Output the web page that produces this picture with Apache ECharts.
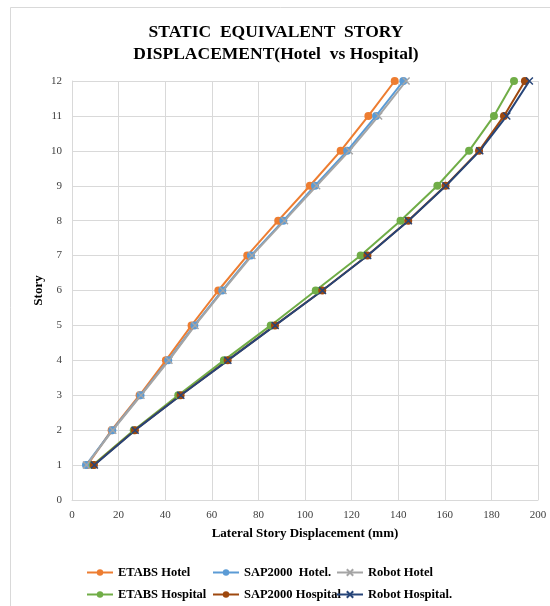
<!DOCTYPE html>
<html>
<head>
<meta charset="utf-8">
<style>
  html, body { margin: 0; padding: 0; background: #fff; }
  #chart { width: 550px; height: 606px; }
</style>
<script src="https://cdn.jsdelivr.net/npm/echarts@6/dist/echarts.min.js"></script>
</head>
<body>
<div id="chart"></div>
<script>
// story levels
var stories = [1, 2, 3, 4, 5, 6, 7, 8, 9, 10, 11, 12]
// lateral displacement (mm) per story
var etabsHotel = [6.6, 17.0, 29.0, 40.3, 51.3, 62.8, 75.2, 88.5, 102.1, 115.3, 127.2, 138.5]
var sapHotel = [6.0, 17.3, 29.4, 41.3, 52.5, 64.5, 76.8, 90.7, 104.3, 118.1, 130.5, 142.2]
var robotHotel = [6.2, 17.5, 29.6, 41.6, 52.8, 64.8, 77.2, 91.2, 105.0, 119.0, 131.6, 143.4]
var etabsHospital = [9.0, 26.5, 45.6, 65.2, 85.3, 104.6, 123.9, 141.0, 156.8, 170.4, 181.1, 189.7]
var sapHospital = [9.4, 27.0, 46.6, 66.8, 87.1, 107.4, 126.8, 144.3, 160.3, 174.7, 185.4, 194.4]
var robotHospital = [9.6, 27.1, 46.7, 66.9, 87.2, 107.5, 126.9, 144.4, 160.5, 175.0, 186.6, 196.3]

var serif = '"Liberation Serif", "Times New Roman", serif'

function pairs(xs) {
  var res = []
  for (var i = 0; i < xs.length; i++) {
    res.push([xs[i], stories[i]])
  }
  return res
}

var seriesDefs = [
  {name: 'ETABS Hotel', data: etabsHotel, color: '#ED7D31', symbol: 'circle'},
  {name: 'SAP2000  Hotel.', data: sapHotel, color: '#5B9BD5', symbol: 'circle'},
  {name: 'Robot Hotel', data: robotHotel, color: '#A5A5A5', symbol: 'cross'},
  {name: 'ETABS Hospital', data: etabsHospital, color: '#70AD47', symbol: 'circle'},
  {name: 'SAP2000 Hospital', data: sapHospital, color: '#9E480E', symbol: 'circle'},
  {name: 'Robot Hospital.', data: robotHospital, color: '#264478', symbol: 'cross'}
]

// x-mark path for the Robot series
var crossPath = 'path://M0,0 L10,10 M10,0 L0,10'

var legendPos = [
  [86, 566], [212, 566], [336, 566],
  [86, 588], [212, 588], [336, 588]
]

var chart = echarts.init(document.getElementById('chart'))

var option = {
  backgroundColor: '#fff',
  animation: false,
  graphic: [{
    type: 'rect',
    shape: {x: 10.5, y: 7.5, width: 600, height: 640},
    style: {fill: 'none', stroke: '#d9d9d9', lineWidth: 1},
    silent: true
  }],
  title: {
    text: 'STATIC  EQUIVALENT  STORY\nDISPLACEMENT(Hotel  vs Hospital)',
    left: 271,
    textAlign: 'center',
    top: 16,
    textStyle: {
      fontFamily: serif,
      fontWeight: 'bold',
      fontSize: 17.5,
      lineHeight: 22,
      color: '#000'
    }
  },
  legend: seriesDefs.map(function (s, i) {
    return {
      data: [s.name],
      left: legendPos[i][0],
      top: legendPos[i][1],
      padding: 0,
      itemWidth: 26,
      itemHeight: 8,
      itemGap: 4,
      textStyle: {
        fontFamily: serif,
        fontWeight: 'bold',
        fontSize: 12.5,
        color: '#000'
      }
    }
  }),
  grid: {
    left: 72,
    right: 12,
    top: 81,
    bottom: 106
  },
  xAxis: {
    type: 'value',
    min: 0,
    max: 200,
    interval: 20,
    name: 'Lateral Story Displacement (mm)',
    nameLocation: 'middle',
    nameGap: 27,
    nameTextStyle: {
      fontFamily: serif,
      fontWeight: 'bold',
      fontSize: 13,
      color: '#000'
    },
    axisLine: {show: true, lineStyle: {color: '#d9d9d9', width: 1}},
    axisTick: {show: false},
    axisLabel: {
      fontFamily: serif,
      fontSize: 11,
      color: '#404040',
      margin: 10
    },
    splitLine: {lineStyle: {color: '#d9d9d9', width: 1}}
  },
  yAxis: {
    type: 'value',
    min: 0,
    max: 12,
    interval: 1,
    name: 'Story',
    nameLocation: 'middle',
    nameGap: 27,
    nameMoveOverlap: false,
    nameTextStyle: {
      fontFamily: serif,
      fontWeight: 'bold',
      fontSize: 13,
      color: '#000'
    },
    axisLine: {show: true, lineStyle: {color: '#d9d9d9', width: 1}},
    axisTick: {show: false},
    axisLabel: {
      fontFamily: serif,
      fontSize: 11,
      color: '#404040',
      margin: 10
    },
    splitLine: {lineStyle: {color: '#d9d9d9', width: 1}}
  },
  series: seriesDefs.map(function (s) {
    var isCross = s.symbol === 'cross'
    return {
      name: s.name,
      type: 'line',
      data: pairs(s.data),
      symbol: isCross ? crossPath : 'circle',
      symbolSize: isCross ? 7 : 8,
      showAllSymbol: true,
      lineStyle: {color: s.color, width: 2},
      itemStyle: isCross
        ? {color: s.color, borderColor: s.color, borderWidth: 1.5}
        : {color: s.color, borderColor: s.color, borderWidth: 0}
    }
  })
}

chart.setOption(option)
</script>
</body>
</html>
